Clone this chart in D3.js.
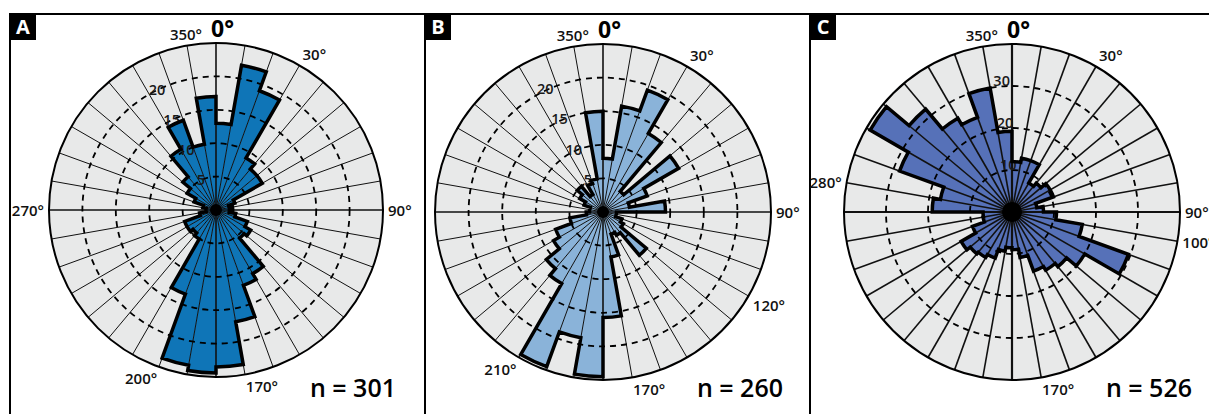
<!DOCTYPE html>
<html lang="en">
  <head>
    <meta charset="UTF-8" />
    <title>Rose diagrams</title>
    <script src="https://cdn.jsdelivr.net/npm/d3@7"></script>
    <style>
      body {
        margin: 0;
        background: #ffffff;
        font-family: "Open Sans", Arial, sans-serif;
      }
      svg {
        display: block;
      }
    </style>
  </head>
  <body>
    <script>
      const w = 1209;
      const h = 414;

      // 10 degree bins (start bearing of each sector)
      const sectors = [
        0, 10, 20, 30, 40, 50, 60, 70, 80, 90, 100, 110, 120, 130, 140, 150, 160, 170,
        180, 190, 200, 210, 220, 230, 240, 250, 260, 270, 280, 290, 300, 310, 320, 330, 340, 350,
      ];

      const countsA = [
        13, 22, 19, 9, 8, 8, 3, 2, 2.5, 2, 3, 5, 6, 5.5, 11, 12, 17, 23.5,
        24.4, 23.6, 13.4, 5, 4.5, 5, 5, 2.5, 1.5, 1.5, 2, 3.5, 5, 6.5, 10.5, 14.3, 10, 17,
      ];
      const countsB = [
        8, 16, 19.3, 13.5, 4, 13, 7, 4, 9.3, 2, 2, 3, 3.5, 8.4, 4, 3.5, 6.8, 15.7,
        24.5, 19, 24.5, 12.3, 11, 8.5, 7.5, 5, 2.5, 2, 2, 3, 4, 5, 3, 4.5, 5, 15,
      ];
      const countsC = [
        12, 13, 13, 8, 9, 10.5, 10.5, 6, 7.5, 10.6, 17, 29.5, 20, 17, 16, 15, 11, 9,
        8.5, 9.5, 11.7, 12.5, 13, 14, 10, 7, 6.9, 19, 17.3, 28.5, 39, 32, 25.8, 24, 30, 19.2,
      ];

      const ringsAB = [5, 10, 15, 20];
      const ringsC = [10, 20, 30];

      const labelAnglesA = [350, 30, 90, 170, 200, 270];
      const labelAnglesB = [350, 30, 90, 120, 170, 210];
      const labelAnglesC = [350, 30, 90, 100, 170, 280];

      const panels = [
        { letter: "A", left: 10, cx: 216, cy: 210, R: 167, max: 25, rings: ringsAB, counts: countsA,
          labels: labelAnglesA, n: 301, color: "#0f75b7", ringBearing: 334, ringPad: 1, spoke: 1, hub: 6 },
        { letter: "B", left: 425, cx: 603, cy: 212, R: 168, max: 25, rings: ringsAB, counts: countsB,
          labels: labelAnglesB, n: 260, color: "#8ab3d9", ringBearing: 335, ringPad: 2, spoke: 1, hub: 6 },
        { letter: "C", left: 810, cx: 1012, cy: 212, R: 168, max: 40, rings: ringsC, counts: countsC,
          labels: labelAnglesC, n: 526, color: "#5671b8", ringBearing: 355.5, ringPad: 6, spoke: 1.6, hub: 10 },
      ];

      const rad = (deg) => (deg * Math.PI) / 180;

      const createSvg = () =>
        d3.select("body").append("svg").attr("width", w).attr("height", h);

      const drawFrame = (svg) => {
        svg.append("line")
          .attr("x1", 10).attr("x2", w)
          .attr("y1", 14).attr("y2", 14)
          .attr("stroke", "#000").attr("stroke-width", 2);
      };

      const drawPanel = (svg, p) => {
        // panel border + letter
        svg.append("line")
          .attr("x1", p.left).attr("x2", p.left)
          .attr("y1", 13).attr("y2", h)
          .attr("stroke", "#000").attr("stroke-width", 2);
        svg.append("rect")
          .attr("x", p.left).attr("y", 14)
          .attr("width", 26).attr("height", 26)
          .attr("fill", "#000");
        svg.append("text")
          .attr("x", p.left + 13).attr("y", 34)
          .attr("text-anchor", "middle")
          .attr("fill", "#fff")
          .attr("font-size", 20)
          .attr("font-weight", 700)
          .text(p.letter);

        const g = svg.append("g").attr("transform", `translate(${p.cx},${p.cy})`);
        const r = d3.scaleLinear().domain([0, p.max]).range([0, p.R]);
        const data = sectors.map((s, i) => ({ start: s, end: s + 10, value: p.counts[i] }));

        g.append("circle").attr("r", p.R).attr("fill", "#e8e9e9");

        const arc = d3.arc()
          .innerRadius(0)
          .outerRadius((d) => r(d.value))
          .startAngle((d) => rad(d.start))
          .endAngle((d) => rad(d.end));

        g.append("g")
          .selectAll("path")
          .data(data)
          .enter()
          .append("path")
          .attr("d", arc)
          .attr("fill", p.color);

        // spokes
        g.append("g")
          .selectAll("line")
          .data(sectors)
          .enter()
          .append("line")
          .attr("x2", (d) => p.R * Math.sin(rad(d)))
          .attr("y2", (d) => -p.R * Math.cos(rad(d)))
          .attr("stroke", "#111")
          .attr("stroke-width", (d) => (d % 90 === 0 ? p.spoke + 0.6 : p.spoke));

        // dashed rings
        g.append("g")
          .selectAll("circle")
          .data(p.rings)
          .enter()
          .append("circle")
          .attr("r", (d) => r(d))
          .attr("fill", "none")
          .attr("stroke", "#000")
          .attr("stroke-width", 1.8)
          .attr("stroke-dasharray", "6,5");

        // ring labels
        g.append("g")
          .selectAll("text")
          .data(p.rings)
          .enter()
          .append("text")
          .attr("x", (d) => (r(d) + p.ringPad) * Math.sin(rad(p.ringBearing)))
          .attr("y", (d) => -(r(d) + p.ringPad) * Math.cos(rad(p.ringBearing)))
          .attr("text-anchor", "middle")
          .attr("dominant-baseline", "central")
          .attr("font-size", 14.5)
          .attr("font-weight", 600)
          .attr("fill", "#1a1a1a")
          .text((d) => d);

        // envelope outline
        const path = d3.path();
        data.forEach((d) => {
          path.arc(0, 0, r(d.value), rad(d.start) - Math.PI / 2, rad(d.end) - Math.PI / 2, false);
        });
        path.closePath();
        g.append("path")
          .attr("d", path.toString())
          .attr("fill", "none")
          .attr("stroke", "#000")
          .attr("stroke-width", 3.5)
          .attr("stroke-linejoin", "miter");

        g.append("circle").attr("r", p.hub).attr("fill", "#000");

        // outer circle
        g.append("circle")
          .attr("r", p.R)
          .attr("fill", "none")
          .attr("stroke", "#000")
          .attr("stroke-width", 2);

        // bearing labels
        g.append("text")
          .attr("x", -5)
          .attr("y", -p.R - 6)
          .attr("font-size", 23)
          .attr("font-weight", 700)
          .attr("fill", "#000")
          .text("0°");

        g.append("g")
          .selectAll("text")
          .data(p.labels)
          .enter()
          .append("text")
          .each(function (d) {
            const s = Math.sin(rad(d));
            const c = Math.cos(rad(d));
            const gap = c > 0.3 ? 6 : 5;
            let anchor = "middle";
            if (c > 0) {
              if (s > 0.3) anchor = "start";
              else if (s < -0.3) anchor = "end";
            } else {
              if (s > 0.05) anchor = "start";
              else if (s < -0.05) anchor = "end";
            }
            let base = "central";
            if (c > 0.3) base = "auto";
            else if (c < -0.3) base = "hanging";
            d3.select(this)
              .attr("x", (p.R + gap) * s)
              .attr("y", -(p.R + gap) * c)
              .attr("text-anchor", anchor)
              .attr("dominant-baseline", base);
          })
          .attr("font-size", 15)
          .attr("font-weight", 600)
          .attr("fill", "#111")
          .text((d) => `${d}°`);

        // sample size
        svg.append("text")
          .attr("x", p.cx + 180)
          .attr("y", 397)
          .attr("text-anchor", "end")
          .attr("font-size", 25)
          .attr("font-weight", 600)
          .attr("fill", "#000")
          .text(`n = ${p.n}`);
      };

      const init = () => {
        const svg = createSvg();
        drawFrame(svg);
        panels.forEach((p) => drawPanel(svg, p));
      };
      init();
    </script>
  </body>
</html>
